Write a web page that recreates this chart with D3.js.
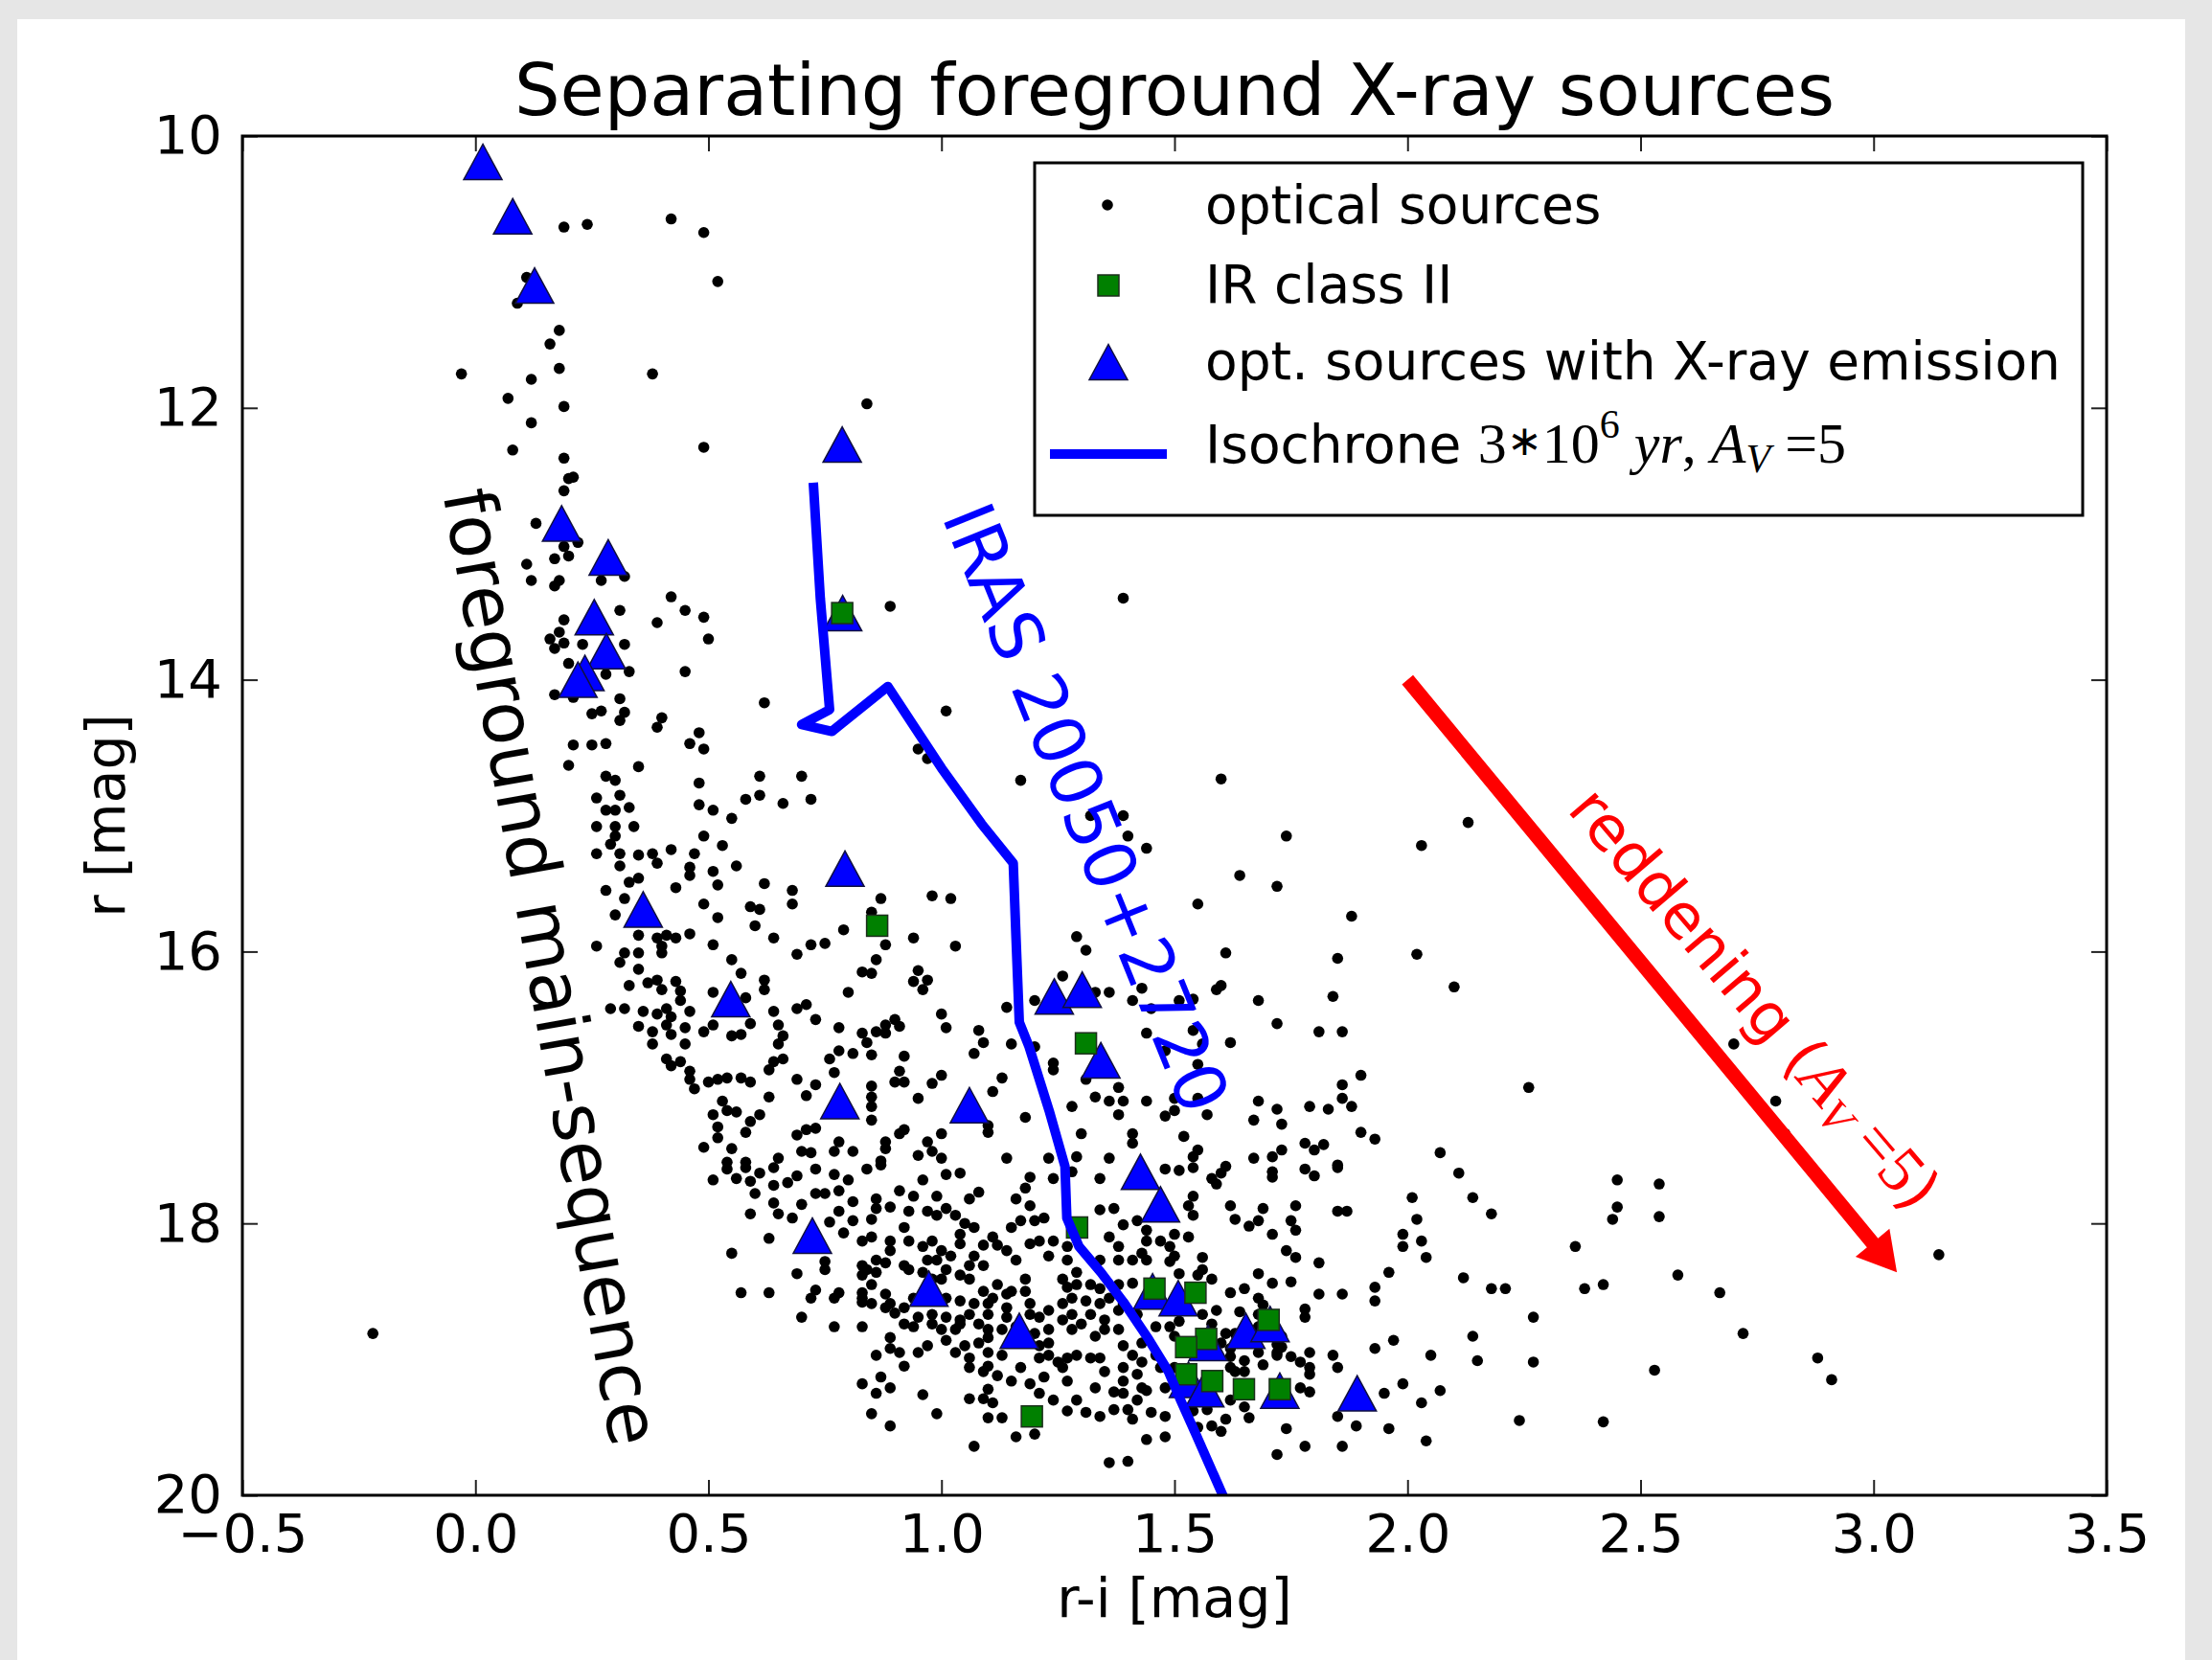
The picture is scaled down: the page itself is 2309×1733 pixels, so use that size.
<html>
<head>
  <meta charset="utf-8">
  <title>Separating foreground X-ray sources</title>
  <script src="https://d3js.org/d3.v7.min.js"></script>
  <style>
    body { margin: 0; background: #e6e6e6; }
    text { font-family: "DejaVu Sans", sans-serif; }
    .axis text { font-size: 56px; fill: #000; font-family: "DejaVu Sans", sans-serif; }
    .axis .domain { display: none; }
    .axis line { stroke: #222; stroke-width: 2px; }
    .math { font-family: "Liberation Serif", serif; }
  </style>
</head>
<body>
<svg id="chart" width="2309" height="1733"></svg>
<script>
// r-i vs r values
const opticalSources = [
  [0.19,10.67],[0.24,10.65],[0.42,10.61],[0.49,10.71],[0.52,11.07],[0.11,11.04],[0.09,11.23],[0.18,11.43],[0.16,11.53],[-0.03,11.75],[0.12,11.79],[0.18,11.71],[0.38,11.75],[0.07,11.93],[0.19,11.99],[0.12,12.11],[0.08,12.31],[0.19,12.37],[0.21,12.51],[0.49,12.29],[0.84,11.97],
  [0.89,13.46],[1.39,13.40],[1.01,14.23],[0.95,14.51],[0.97,14.58],[1.17,14.74],[1.60,14.73],[1.39,15.0],[1.32,15.0],[2.13,15.05],
  [0.20,12.52],[0.19,12.61],[0.13,12.85],[0.19,13.02],[0.22,12.99],[0.17,13.11],[0.20,13.09],[0.11,13.15],[0.12,13.27],[0.17,13.31],[0.18,13.27],[0.27,13.27],[0.32,13.24],[0.42,13.39],[0.45,13.49],[0.49,13.54],[0.39,13.58],[0.50,13.70],[0.31,13.49],[0.19,13.56],[0.18,13.65],[0.16,13.70],[0.19,13.73],[0.17,13.77],[0.23,13.74],[0.32,13.74],[0.20,13.88],[0.28,13.96],[0.33,13.94],[0.45,13.94],[0.17,14.11],[0.21,14.13],[0.31,14.14],[0.25,14.25],[0.27,14.23],[0.32,14.24],[0.31,14.30],[0.40,14.28],[0.39,14.35],[0.62,14.17],[0.48,14.39],[0.46,14.47],[0.49,14.51],[0.21,14.48],[0.25,14.48],[0.28,14.47],[0.20,14.63],[0.35,14.64],[0.28,14.71],[0.30,14.74],[0.48,14.76],[0.61,14.71],[0.70,14.71],[0.26,14.87],[0.31,14.85],[0.61,14.85],[0.58,14.88],[0.48,14.92],[0.51,14.96],[0.66,14.91],[0.72,14.88],[0.55,15.02],[0.28,14.96],[0.30,14.96],[0.33,14.94],
  [0.26,15.08],[0.30,15.08],[0.34,15.08],[0.49,15.15],[0.53,15.22],[0.30,15.15],[0.29,15.21],[0.26,15.28],[0.31,15.28],[0.35,15.29],[0.38,15.28],[0.42,15.25],[0.47,15.28],[0.31,15.37],[0.39,15.35],[0.46,15.38],[0.46,15.44],[0.51,15.41],[0.56,15.37],[0.35,15.46],[0.33,15.49],[0.28,15.55],[0.43,15.53],[0.52,15.51],[0.62,15.50],[0.68,15.55],[0.68,15.65],[0.32,15.61],[0.30,15.73],[0.49,15.65],[0.59,15.67],[0.61,15.69],[0.52,15.75],[0.60,15.81],[0.79,15.84],[0.35,15.88],[0.39,15.90],[0.41,15.88],[0.43,15.90],[0.46,15.87],[0.26,15.96],[0.40,15.96],[0.51,15.95],[0.64,15.90],[0.72,15.95],[0.75,15.94],[0.69,16.02],[0.32,16.01],[0.35,16.01],[0.40,16.01],[0.31,16.08],[0.35,16.13],[0.55,16.06],[0.57,16.16],[0.83,16.15],[0.33,16.25],[0.37,16.23],[0.39,16.21],[0.40,16.28],[0.43,16.22],[0.44,16.29],[0.62,16.21],[0.62,16.28],[0.51,16.30],[0.58,16.34],[0.80,16.30],[0.44,16.36],[0.29,16.42],[0.32,16.42],[0.36,16.44],[0.39,16.46],[0.41,16.42],[0.42,16.48],[0.46,16.44],[0.64,16.44],[0.69,16.42],[0.71,16.39],[0.73,16.50],[0.35,16.55],[0.38,16.59],[0.41,16.54],[0.42,16.61],[0.45,16.56],[0.49,16.59],[0.51,16.54],[0.55,16.62],[0.57,16.61],[0.59,16.53],[0.65,16.54],[0.66,16.62],[0.65,16.68],[0.78,16.56],[0.83,16.60],[0.38,16.68],[0.45,16.68],[0.78,16.73],[0.81,16.75],[0.76,16.79],[0.41,16.79],[0.44,16.81],[0.42,16.84],[0.64,16.81],[0.66,16.79],[0.63,16.87],[0.46,16.88],[0.46,16.94],[0.47,17.01],[0.50,16.96],[0.52,16.94],[0.54,16.93],[0.57,16.93],[0.59,16.96],[0.69,16.94],[0.77,16.89],[0.71,17.06],[0.73,16.98],[0.63,17.07],[0.53,17.10],[0.51,17.20],[0.54,17.17],[0.56,17.18],[0.61,17.20],[0.59,17.25],[0.52,17.29],[0.58,17.33],[0.52,17.37],[0.69,17.35],[0.71,17.31],[0.73,17.30],[0.49,17.44],[0.55,17.45],[0.70,17.47],[0.72,17.48],[0.78,17.40],[0.77,17.47],[0.81,17.47],[0.54,17.55],[0.58,17.55],[0.65,17.52],
  [1.40,15.15],[1.44,15.24],[1.74,15.15],[2.03,15.22],[1.64,15.44],[1.72,15.52],[1.55,15.65],[1.88,15.74],[0.87,15.61],[0.98,15.59],[1.02,15.61],[0.85,15.71],[0.94,15.90],[0.88,15.95],[1.03,15.96],[0.86,16.06],[0.85,16.16],[0.95,16.14],[0.97,16.21],[0.94,16.22],[0.96,16.28],[1.29,15.89],[1.31,15.99],[1.61,16.01],[1.85,16.05],[2.02,16.02],[2.10,16.26],[1.84,16.33],[1.68,16.36],[1.60,16.25],[1.59,16.28],[1.54,16.35],[1.51,16.36],[1.43,16.27],[1.41,16.36],[1.45,16.42],[1.36,16.30],[1.33,16.30],[1.26,16.18],[1.20,16.36],[1.14,16.41],[1.00,16.46],[1.01,16.56],[0.90,16.50],[0.88,16.54],[0.91,16.55],[0.86,16.59],[0.88,16.60],[0.84,16.67],[1.08,16.58],[1.09,16.67],[1.07,16.75],[1.15,16.68],[1.20,16.70],[0.85,16.76],[0.92,16.77],[1.24,16.82],[1.24,16.87],[1.44,16.60],[1.54,16.58],[1.56,16.68],[1.48,16.73],[1.55,16.83],[1.62,16.67],[1.72,16.53],[1.81,16.59],[1.86,16.59],[1.90,16.91],[1.86,16.98],[1.86,17.08],[1.88,17.14],[1.68,17.10],[1.72,17.16],[1.79,17.14],[1.83,17.16],[1.67,17.24],[1.73,17.27],[1.90,17.33],[1.93,17.38],[0.91,16.88],[0.90,16.96],[0.92,16.96],[1.00,16.91],[0.98,16.97],[0.85,16.99],[0.85,17.07],[0.95,17.08],[1.13,16.93],[1.11,17.03],[0.85,17.14],[0.85,17.24],[1.18,17.22],[1.10,17.28],[1.10,17.33],[0.92,17.31],[0.91,17.34],[1.00,17.34],[0.88,17.40],[0.88,17.45],[0.97,17.40],[0.98,17.47],[0.95,17.50],[1.00,17.52],[0.87,17.54],[1.14,17.52],[1.23,17.52],[1.29,17.51],[1.36,17.52],[1.31,16.94],[1.38,17.00],[1.33,17.07],[1.36,17.10],[1.39,17.10],[1.44,17.10],[1.28,17.14],[1.38,17.20],[1.50,17.08],[1.55,17.08],[1.50,17.17],[1.57,17.20],[1.48,17.21],[1.30,17.34],[1.41,17.34],[1.41,17.41],[1.52,17.36],[1.55,17.46],[1.54,17.51],[1.67,17.52],[1.71,17.51],[1.73,17.46],[1.78,17.41],[1.80,17.46],[1.82,17.42],[2.07,17.48],[1.85,17.57],[1.61,17.58],
  [2.70,16.68],[2.26,17.00],[2.79,17.10],[2.81,17.34],
  [2.45,17.68],[2.54,17.71],[2.18,17.93],[2.45,17.88],[2.44,17.97],[2.54,17.95],[2.36,18.17],[3.14,18.23],[2.18,18.48],[2.21,18.48],[2.38,18.48],[2.42,18.45],[2.58,18.38],[2.67,18.51],[2.27,18.69],[2.72,18.81],[2.27,19.02],[2.53,19.08],[2.88,18.99],[2.91,19.15],[2.24,19.45],[2.42,19.46],
  [-0.22,18.81],[0.51,17.68],[0.54,17.60],[0.58,17.59],[0.61,17.63],[0.64,17.59],[0.56,17.67],[0.59,17.69],[0.64,17.72],[0.67,17.70],[0.69,17.65],[0.73,17.60],[0.77,17.64],[0.80,17.68],[0.60,17.78],[0.64,17.85],[0.75,17.78],[0.70,17.86],[0.73,17.78],[0.78,17.76],[0.81,17.84],[0.59,17.93],[0.65,17.93],[0.68,17.96],[0.78,17.91],[0.76,17.99],[0.81,17.98],[0.63,18.11],[0.79,18.07],[0.83,18.13],[0.55,18.22],[0.69,18.37],[0.75,18.28],[0.75,18.34],[0.83,18.31],[0.83,18.38],[0.57,18.51],[0.63,18.51],[0.73,18.49],[0.72,18.55],[0.77,18.55],[0.78,18.51],[0.83,18.51],[0.83,18.58],[0.70,18.69],[0.77,18.76],[0.83,18.76],[0.83,19.18],
  [0.84,17.60],[0.87,17.57],[0.96,17.68],[1.01,17.64],[1.04,17.63],[1.19,17.66],[1.18,17.74],[1.24,17.67],[1.28,17.62],[1.34,17.67],[1.48,17.60],[1.51,17.61],[1.54,17.59],[1.58,17.67],[1.60,17.63],[1.59,17.71],[1.71,17.62],[1.71,17.66],[1.78,17.60],[1.80,17.65],[1.85,17.59],[2.11,17.63],[2.14,17.81],[2.01,17.81],[2.02,17.97],[1.99,18.08],[1.99,18.17],[2.03,18.13],[2.04,18.25],[1.85,17.91],[1.87,17.91],[1.76,17.87],[1.69,17.89],[1.62,17.87],[1.63,17.97],[1.66,18.02],[1.68,17.98],[1.71,18.08],[1.75,17.98],[1.76,18.05],[1.74,18.20],[1.76,18.25],[1.81,18.29],[2.12,18.40],[1.96,18.36],[1.93,18.47],[1.93,18.57],[1.86,18.52],[1.81,18.52],[1.75,18.43],[1.71,18.44],[1.68,18.37],[1.65,18.48],[1.62,18.51],[1.64,18.65],[1.59,18.64],[1.78,18.63],[1.78,18.69],[1.97,18.86],[1.93,18.92],[2.05,18.97],[2.14,18.83],[2.15,19.01],[1.84,18.97],[1.85,19.06],[1.79,18.95],[1.77,19.02],[1.79,19.06],[1.79,19.11],[1.75,18.98],[1.73,18.91],[1.72,18.95],[1.69,19.04],[1.65,19.01],[1.65,19.09],[1.62,18.98],[1.77,19.21],[1.79,19.24],[1.99,19.18],[1.95,19.25],[2.07,19.23],[2.03,19.32],[1.85,19.42],[1.89,19.49],[1.96,19.51],[2.04,19.60],[1.74,19.51],[1.78,19.64],[1.86,19.64],[1.72,19.70],[1.65,19.35],[1.66,19.43],[1.61,19.44],[1.57,19.37],[1.58,19.49],[1.60,19.53],[1.55,19.50],[1.48,19.57],[1.44,19.59],[1.48,19.42],[1.45,19.39],[1.41,19.44],[1.40,19.37],[1.37,19.37],[1.34,19.42],[1.31,19.39],[1.27,19.38],[1.29,19.30],[1.24,19.30],[1.21,19.25],[1.36,19.76],[1.40,19.75],[1.16,19.57],[1.20,19.55],[1.07,19.64],[1.13,19.43],[1.10,19.43],[0.99,19.40],[0.89,19.49],[0.85,19.40],[0.86,19.25],[0.96,19.26],[1.06,19.29],[1.09,19.29],[1.11,19.32],[1.10,19.22],[0.89,19.21],[0.87,19.13],[0.92,19.05],[0.86,18.97],[0.91,18.95],[0.89,18.92],[0.89,18.84],[1.01,18.86],[1.03,18.95],[0.95,18.95],[0.97,18.90],[1.06,18.99],[1.06,19.06],[1.09,19.09],[1.10,18.95],[1.13,18.97],[1.10,19.05],[1.12,19.12],[1.15,19.16],[1.17,19.06],[1.19,19.18],[1.22,19.13],[1.21,18.99],[1.23,18.97],[1.25,19.02],[1.27,18.99],[1.27,19.16],[1.26,19.06],[1.29,18.97],[1.32,18.99],[1.34,18.99],[1.33,19.21],[1.37,19.24],[1.35,19.09],[1.39,19.06],[1.39,19.16],[1.42,19.11],[1.43,19.02],[1.41,18.97],[1.44,19.23],[1.47,19.06],[1.46,18.97],[1.43,18.88],[1.39,18.90],[1.38,18.78],[1.35,18.78],[1.33,18.83],[1.30,18.74],[1.28,18.78],[1.26,18.71],[1.28,18.67],[1.32,18.67],[1.35,18.71],[1.38,18.64],[1.34,18.59],[1.31,18.57],[1.28,18.55],[1.26,18.59],[1.23,18.64],[1.21,18.69],[1.23,18.78],[1.20,18.81],[1.23,18.88],[1.21,18.90],[1.19,18.59],[1.18,18.50],[1.15,18.50],[1.18,18.41],[1.26,18.41],[1.27,18.47],[1.29,18.45],[1.32,18.45],[1.34,18.48],[1.29,18.36],[1.27,18.27],[1.23,18.24],[1.21,18.13],[1.19,18.15],[1.24,18.13],[1.27,18.17],[1.16,18.27],[1.14,18.20],[1.12,18.16],[1.09,18.16],[1.09,18.31],[1.07,18.24],[1.04,18.15],[1.04,18.08],[1.02,18.24],[1.00,18.20],[0.98,18.13],[0.96,18.17],[0.97,18.27],[0.99,18.27],[0.93,18.13],[0.89,18.13],[0.85,18.10],[0.92,18.03],[0.89,18.20],[0.86,18.27],[0.84,18.34],[0.86,18.36],[0.88,18.29],[0.92,18.31],[0.93,18.34],[0.85,18.45],[0.88,18.52],[0.89,18.59],[0.92,18.62],[0.94,18.55],[0.92,18.74],[0.94,18.76],[0.98,18.67],[1.01,18.69],[1.04,18.71],[1.06,18.67],[1.03,18.78],[1.04,18.74],[1.08,18.74],[1.10,18.67],[1.10,18.59],[1.07,18.59],[1.04,18.57],[1.01,18.55],[1.09,18.50],[1.11,18.55],[1.14,18.52],[1.12,18.45],[1.06,18.41],[1.04,18.38],[1.00,18.41],[1.01,18.34],[1.06,18.31],[1.01,17.89],[0.99,17.80],[0.94,17.80],[0.91,17.76],[0.86,17.82],[0.86,17.89],[0.85,17.97],[0.89,17.88],[0.93,17.91],[0.97,17.91],[0.99,17.94],[1.03,17.94],[1.06,17.82],[1.08,17.77],[1.05,18.00],[1.07,18.03],[1.11,18.10],[1.15,18.03],[1.17,17.98],[1.20,17.98],[1.22,17.96],[1.16,17.82],[1.19,17.87],[1.34,17.90],[1.37,17.89],[1.39,18.01],[1.36,18.10],[1.38,18.17],[1.34,18.27],[1.38,18.27],[1.41,18.27],[1.43,18.22],[1.44,18.27],[1.42,17.98],[1.44,18.05],[1.44,18.13],[1.47,18.13],[1.50,18.08],[1.53,18.10],[1.54,17.94],[1.54,17.80],[1.53,17.87],[1.49,18.17],[1.50,18.24],[1.49,18.28],[1.56,18.25],[1.56,18.34],[1.58,18.41],[1.55,18.38],[1.51,18.37],[1.41,18.44],[1.38,18.45],[1.36,18.55],[1.39,18.59],[1.42,18.67],[1.46,18.76],[1.49,18.76],[1.51,18.72],[1.50,18.83],[1.56,18.67],[1.58,18.74],[1.60,18.88],[1.61,18.81],[1.63,18.81],[1.58,18.97],[1.62,18.92],[1.63,19.09],[1.68,18.95],[1.68,18.55],[1.69,18.60],[1.62,19.06],[1.50,19.06],[1.48,19.21],[1.43,19.21],[1.42,19.30],[1.39,19.25],[1.54,19.38],[1.62,19.30],[1.72,18.97],[1.72,18.89],[1.73,18.83],[1.68,18.76],[1.68,18.67],[1.19,18.67],[1.14,18.62],[1.14,18.69],[1.16,18.76],[1.13,18.78],[1.10,18.78],[1.08,18.88],[1.10,18.84],[1.05,18.90],[1.00,18.78],[0.98,18.74],[0.95,18.69],[0.90,18.66],[0.88,18.62],[0.85,18.59],[0.83,18.55],[0.98,18.41],[0.97,18.45],[0.96,18.36]
];

const irClassII = [
  [0.787,13.51],[0.862,15.81],[1.310,16.675],[1.291,18.03],[1.457,18.48],[1.545,18.51],[1.702,18.71],
  [1.568,18.85],[1.525,18.91],[1.525,19.11],[1.581,19.16],[1.649,19.22],[1.726,19.22],[1.194,19.42]
];

const xraySources = [
  [0.016,10.19],[0.080,10.59],[0.127,11.10],[0.787,12.27],[0.185,12.85],[0.285,13.10],[0.255,13.54],
  [0.788,13.51],[0.281,13.79],[0.235,13.95],[0.22,14.0],[0.793,15.39],[0.360,15.69],[0.548,16.35],
  [1.242,16.33],[1.302,16.28],[1.342,16.80],[0.782,17.10],[1.060,17.13],[1.427,17.62],[1.470,17.86],
  [0.723,18.09],[0.973,18.48],[1.453,18.50],[1.508,18.55],[1.167,18.79],[1.653,18.79],[1.705,18.74],
  [1.572,18.88],[1.53,19.15],[1.565,19.22],[1.726,19.23],[1.892,19.25]
];

const isochrone = [
  [0.725,12.55],[0.74,13.4],[0.76,14.22],[0.70,14.33],[0.765,14.38],[0.885,14.05],[1.00,14.65],
  [1.086,15.06],[1.154,15.35],[1.16,15.9],[1.167,16.52],[1.188,16.70],[1.231,17.17],[1.265,17.58],
  [1.269,17.96],[1.295,18.17],[1.342,18.36],[1.393,18.59],[1.444,18.85],[1.487,19.09],[1.513,19.30],
  [1.547,19.56],[1.61,20.05]
];

const reddeningVector = [[2.0, 14.0], [3.05, 18.36]];

const riTicks = [-0.5, 0.0, 0.5, 1.0, 1.5, 2.0, 2.5, 3.0, 3.5];
const rTicks = [10, 12, 14, 16, 18, 20];

const svg = d3.select("#chart");
const width = +svg.attr("width");
const height = +svg.attr("height");

// figure face
svg.append("rect").attr("x", 18).attr("y", 20).attr("width", 2263).attr("height", height - 20).attr("fill", "#fff");

const plot = {left: 253, right: 2199, top: 142, bottom: 1561};
const x = d3.scaleLinear().domain([-0.5, 3.5]).range([plot.left, plot.right]);
const y = d3.scaleLinear().domain([10, 20]).range([plot.top, plot.bottom]);

svg.append("clipPath").attr("id", "clip")
  .append("rect").attr("x", plot.left).attr("y", plot.top)
  .attr("width", plot.right - plot.left).attr("height", plot.bottom - plot.top);

const area = svg.append("g").attr("clip-path", "url(#clip)");

// optical sources
area.selectAll("circle.opt").data(opticalSources).join("circle")
  .attr("class", "opt")
  .attr("cx", d => x(d[0])).attr("cy", d => y(d[1]))
  .attr("r", 5.8).attr("fill", "#000");

// triangles (X-ray)
function triangle(w, h) {
  return `M0,${-h/2}L${w/2},${h/2}L${-w/2},${h/2}Z`;
}
area.selectAll("path.xray").data(xraySources).join("path")
  .attr("class", "xray")
  .attr("d", triangle(40, 37))
  .attr("transform", d => `translate(${x(d[0])},${y(d[1])})`)
  .attr("fill", "#0000ff").attr("stroke", "#101040").attr("stroke-width", 1.5);

// IR class II squares
area.selectAll("rect.ir").data(irClassII).join("rect")
  .attr("class", "ir")
  .attr("x", d => x(d[0]) - 11).attr("y", d => y(d[1]) - 11)
  .attr("width", 22).attr("height", 22)
  .attr("fill", "#008000").attr("stroke", "#1c2e1c").attr("stroke-width", 1.5);

// isochrone
const line = d3.line().x(d => x(d[0])).y(d => y(d[1]));
area.append("path").datum(isochrone)
  .attr("d", line)
  .attr("fill", "none").attr("stroke", "#0000ff")
  .attr("stroke-width", 10).attr("stroke-linejoin", "round");

// reddening arrow
(function() {
  const [p0, p1] = reddeningVector.map(d => [x(d[0]), y(d[1])]);
  const dx = p1[0] - p0[0], dy = p1[1] - p0[1];
  const len = Math.hypot(dx, dy);
  const ux = dx / len, uy = dy / len, nx = -uy, ny = ux;
  const sw = 7.5, hw = 23, hl = 40;
  const bx = p1[0] - ux * hl, by = p1[1] - uy * hl;
  const pts = [
    [p0[0] + nx * sw, p0[1] + ny * sw],
    [bx + nx * sw, by + ny * sw],
    [bx + nx * hw, by + ny * hw],
    p1,
    [bx - nx * hw, by - ny * hw],
    [bx - nx * sw, by - ny * sw],
    [p0[0] - nx * sw, p0[1] - ny * sw]
  ];
  area.append("path").attr("d", "M" + pts.map(p => p.join(",")).join("L") + "Z")
    .attr("fill", "#ff0000");
})();

// annotations
svg.append("text")
  .attr("transform", `translate(${x(-0.07)},${y(12.63)}) rotate(80)`)
  .attr("font-size", 75).attr("fill", "#000")
  .text("foreground main-sequence");

svg.append("text")
  .attr("transform", `translate(${x(1.0)},${y(12.80)}) rotate(68)`)
  .attr("font-size", 74).attr("fill", "#0000ff")
  .text("IRAS 20050+2720");

const redText = svg.append("text")
  .attr("transform", `translate(${x(2.34)},${y(14.96)}) rotate(49.5)`)
  .attr("font-size", 64).attr("fill", "#ff0000");
redText.append("tspan").text("reddening (");
redText.append("tspan").attr("class", "math").attr("font-style", "italic").attr("font-size", 68).text("A");
redText.append("tspan").attr("class", "math").attr("font-style", "italic").attr("font-size", 48).attr("dy", 10).text("V");
redText.append("tspan").attr("class", "math").attr("font-size", 68).attr("dy", -10).text(" =5");
redText.append("tspan").text(")");

// axes, ticks pointing inward on all four sides
const ticksOpt = g => g.attr("class", "axis");
svg.append("g").call(ticksOpt)
  .attr("transform", `translate(0,${plot.bottom})`)
  .call(d3.axisBottom(x).tickValues(riTicks).tickFormat(d3.format(".1f"))
        .tickSizeInner(-16).tickSizeOuter(0).tickPadding(19));
svg.append("g").call(ticksOpt)
  .attr("transform", `translate(0,${plot.top})`)
  .call(d3.axisTop(x).tickValues(riTicks).tickFormat("").tickSizeInner(-16).tickSizeOuter(0));
svg.append("g").call(ticksOpt)
  .attr("transform", `translate(${plot.left},0)`)
  .call(d3.axisLeft(y).tickValues(rTicks).tickFormat(d3.format("d"))
        .tickSizeInner(-16).tickSizeOuter(0).tickPadding(21));
svg.append("g").call(ticksOpt)
  .attr("transform", `translate(${plot.right},0)`)
  .call(d3.axisRight(y).tickValues(rTicks).tickFormat("").tickSizeInner(-16).tickSizeOuter(0));

// frame
svg.append("rect")
  .attr("x", plot.left).attr("y", plot.top)
  .attr("width", plot.right - plot.left).attr("height", plot.bottom - plot.top)
  .attr("fill", "none").attr("stroke", "#000").attr("stroke-width", 3);

// labels + title
svg.append("text").attr("x", (plot.left + plot.right) / 2).attr("y", 120)
  .attr("text-anchor", "middle").attr("font-size", 75)
  .text("Separating foreground X-ray sources");
svg.append("text").attr("x", (plot.left + plot.right) / 2).attr("y", 1688)
  .attr("text-anchor", "middle").attr("font-size", 57)
  .text("r-i [mag]");
svg.append("text")
  .attr("transform", `translate(130,${(plot.top + plot.bottom) / 2}) rotate(-90)`)
  .attr("text-anchor", "middle").attr("font-size", 57)
  .text("r [mag]");

// legend
const legend = svg.append("g");
legend.append("rect").attr("x", 1080).attr("y", 170).attr("width", 1094).attr("height", 368)
  .attr("fill", "#fff").attr("stroke", "#000").attr("stroke-width", 3);
legend.append("circle").attr("cx", 1156).attr("cy", 214).attr("r", 5.8).attr("fill", "#000");
legend.append("rect").attr("x", 1146).attr("y", 287).attr("width", 22).attr("height", 22)
  .attr("fill", "#008000").attr("stroke", "#1c2e1c").attr("stroke-width", 1.5);
legend.append("path").attr("d", triangle(40, 37)).attr("transform", "translate(1157,378)")
  .attr("fill", "#0000ff").attr("stroke", "#101040").attr("stroke-width", 1.5);
legend.append("line").attr("x1", 1096).attr("x2", 1218).attr("y1", 474).attr("y2", 474)
  .attr("stroke", "#0000ff").attr("stroke-width", 10);

const legendLabels = ["optical sources", "IR class II", "opt. sources with X-ray emission"];
const legendBase = [233, 316, 396];
legendLabels.forEach((t, i) => {
  legend.append("text").attr("x", 1258).attr("y", legendBase[i]).attr("font-size", 55).text(t);
});
const iso = legend.append("text").attr("x", 1258).attr("y", 483).attr("font-size", 55);
iso.append("tspan").text("Isochrone ");
iso.append("tspan").attr("class", "math").attr("font-size", 60).text("3");
iso.append("tspan").attr("class", "math").attr("font-size", 44).attr("dy", -8).text("\u2217");
iso.append("tspan").attr("class", "math").attr("font-size", 60).attr("dy", 8).text("10");
iso.append("tspan").attr("class", "math").attr("font-size", 42).attr("dy", -26).text("6");
iso.append("tspan").attr("class", "math").attr("font-size", 60).attr("font-style", "italic").attr("dy", 26).text(" yr");
iso.append("tspan").attr("class", "math").attr("font-size", 60).text(", ");
iso.append("tspan").attr("class", "math").attr("font-size", 60).attr("font-style", "italic").text("A");
iso.append("tspan").attr("class", "math").attr("font-style", "italic").attr("font-size", 42).attr("dy", 10).text("V");
iso.append("tspan").attr("class", "math").attr("font-size", 60).attr("dy", -10).text(" =5");
</script>
</body>
</html>
